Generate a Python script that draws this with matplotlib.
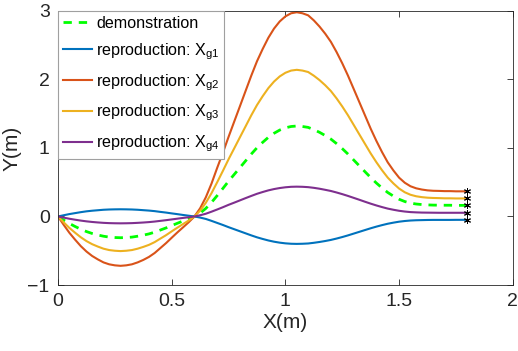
import matplotlib
matplotlib.use('Agg')
import matplotlib.pyplot as plt
import numpy as np

plt.rcParams['font.family'] = ['Liberation Sans', 'DejaVu Sans']
plt.rcParams['mathtext.default'] = 'regular'

# sample positions along X (m), every 0.025 from 0 to 1.8
x = np.linspace(0, 1.8, 73)

demo = [0, -0.053, -0.102, -0.146, -0.186, -0.220, -0.248, -0.270, -0.288, -0.301, -0.307, -0.31,
        -0.307, -0.301, -0.288, -0.273, -0.254, -0.229, -0.198, -0.167, -0.133, -0.099, -0.066, -0.035,
        0,
        0.050, 0.118, 0.205, 0.305, 0.409, 0.515, 0.614, 0.713, 0.812, 0.911, 1.003, 1.082,
        1.155, 1.214, 1.261, 1.294, 1.313, 1.32, 1.313,
        1.300, 1.267, 1.228, 1.181, 1.129, 1.063, 0.990, 0.911, 0.825, 0.739, 0.653, 0.568,
        0.488, 0.416, 0.350, 0.297, 0.251, 0.218, 0.195, 0.182, 0.174, 0.169, 0.166, 0.165,
        0.164, 0.164, 0.162, 0.162, 0.162]

xg1 = [0, 0.018, 0.035, 0.049, 0.063, 0.075, 0.084, 0.091, 0.098, 0.102, 0.104, 0.105,
       0.104, 0.102, 0.098, 0.092, 0.086, 0.078, 0.067, 0.057, 0.045, 0.034, 0.022, 0.011,
       0,
       -0.016, -0.036, -0.064, -0.094, -0.124, -0.156, -0.186, -0.216, -0.246, -0.276, -0.304, -0.328,
       -0.350, -0.368, -0.382, -0.392, -0.398, -0.40, -0.398,
       -0.394, -0.384, -0.372, -0.358, -0.342, -0.322, -0.300, -0.276, -0.250, -0.224, -0.198, -0.172,
       -0.148, -0.126, -0.106, -0.090, -0.076, -0.066, -0.059, -0.055, -0.053, -0.051, -0.050, -0.050,
       -0.050, -0.050, -0.049, -0.049, -0.049]

xg2 = [0, -0.122, -0.238, -0.338, -0.432, -0.511, -0.576, -0.626, -0.670, -0.698, -0.713, -0.72,
       -0.713, -0.698, -0.670, -0.634, -0.590, -0.533, -0.461, -0.389, -0.310, -0.232, -0.158, -0.083,
       0,
       0.12, 0.28, 0.48, 0.71, 0.93, 1.162, 1.386, 1.609, 1.833, 2.056, 2.265, 2.444,
       2.608, 2.742, 2.846, 2.920, 2.965, 2.98, 2.965,
       2.935, 2.861, 2.771, 2.667, 2.548, 2.399, 2.235, 2.056, 1.863, 1.669, 1.475, 1.281,
       1.103, 0.939, 0.790, 0.671, 0.566, 0.492, 0.441, 0.411, 0.393, 0.381, 0.375, 0.373,
       0.370, 0.370, 0.367, 0.367, 0.367]

xg3 = [0, -0.086, -0.167, -0.237, -0.303, -0.359, -0.404, -0.439, -0.470, -0.490, -0.500, -0.505,
       -0.500, -0.490, -0.470, -0.444, -0.414, -0.374, -0.323, -0.273, -0.217, -0.163, -0.110, -0.058,
       0,
       0.085, 0.20, 0.34, 0.50, 0.665, 0.835, 0.995, 1.156, 1.316, 1.477, 1.626, 1.755,
       1.873, 1.969, 2.044, 2.097, 2.129, 2.14, 2.129,
       2.108, 2.054, 1.990, 1.915, 1.830, 1.723, 1.605, 1.477, 1.338, 1.198, 1.059, 0.920,
       0.792, 0.674, 0.567, 0.482, 0.407, 0.353, 0.317, 0.295, 0.282, 0.274, 0.270, 0.268,
       0.265, 0.265, 0.263, 0.263, 0.263]

xg4 = [0, -0.017, -0.033, -0.047, -0.060, -0.071, -0.080, -0.087, -0.093, -0.097, -0.099, -0.100,
       -0.099, -0.097, -0.093, -0.088, -0.082, -0.074, -0.064, -0.054, -0.043, -0.032, -0.021, -0.011,
       0,
       0.018, 0.040, 0.070, 0.102, 0.135, 0.170, 0.202, 0.235, 0.268, 0.300, 0.331, 0.357,
       0.381, 0.400, 0.415, 0.426, 0.433, 0.435, 0.433,
       0.428, 0.418, 0.405, 0.389, 0.372, 0.350, 0.326, 0.300, 0.272, 0.244, 0.215, 0.187,
       0.161, 0.137, 0.115, 0.098, 0.083, 0.072, 0.064, 0.060, 0.057, 0.056, 0.055, 0.054,
       0.054, 0.054, 0.054, 0.054, 0.054]

labels = ['demonstration', r'reproduction: X$_{g1}$', r'reproduction: X$_{g2}$',
          r'reproduction: X$_{g3}$', r'reproduction: X$_{g4}$']
colors = ['#00FF00', '#0072BD', '#D95319', '#EDB120', '#7E2F8E']

fig = plt.figure(figsize=(5.18, 3.51), dpi=100)
ax = fig.add_axes([0.112, 0.188, 0.878, 0.781])

ax.plot(x, demo, '--', color=colors[0], lw=2, dashes=(3, 2.5), label=labels[0])
for ys, c, lab in zip([xg1, xg2, xg3, xg4], colors[1:], labels[1:]):
    ax.plot(x, ys, '-', color=c, lw=1.5, label=lab)

# goal points
ends = [demo[-1], xg1[-1], xg2[-1], xg3[-1], xg4[-1]]
ax.plot([x[-1]] * len(ends), ends, linestyle='none', marker=(6, 2, 0),
        ms=5, mec='k', mew=0.7)

ax.set_xlim(0, 2)
ax.set_ylim(-1, 3)
ax.set_xticks([0, 0.5, 1, 1.5, 2])
ax.set_xticklabels(['0', '0.5', '1', '1.5', '2'])
ax.set_yticks([-1, 0, 1, 2, 3])
ax.tick_params(direction='in', top=True, right=True, labelsize=14,
               colors='#262626', length=4, width=0.6, pad=6)
for s in ax.spines.values():
    s.set_color('#262626')
    s.set_linewidth(0.6)
ax.set_xlabel('X(m)', fontsize=15, color='#262626', labelpad=2)
ax.set_ylabel('Y(m)', fontsize=15, color='#262626', labelpad=4)

leg = ax.legend(loc='upper left', fontsize=11.6, borderaxespad=0, fancybox=False,
                framealpha=1, edgecolor='#A0A0A0', handlelength=1.8,
                handletextpad=0.25, labelspacing=0.64, borderpad=0.3)
leg.get_frame().set_linewidth(0.8)

fig.savefig('out.png', dpi=100)
